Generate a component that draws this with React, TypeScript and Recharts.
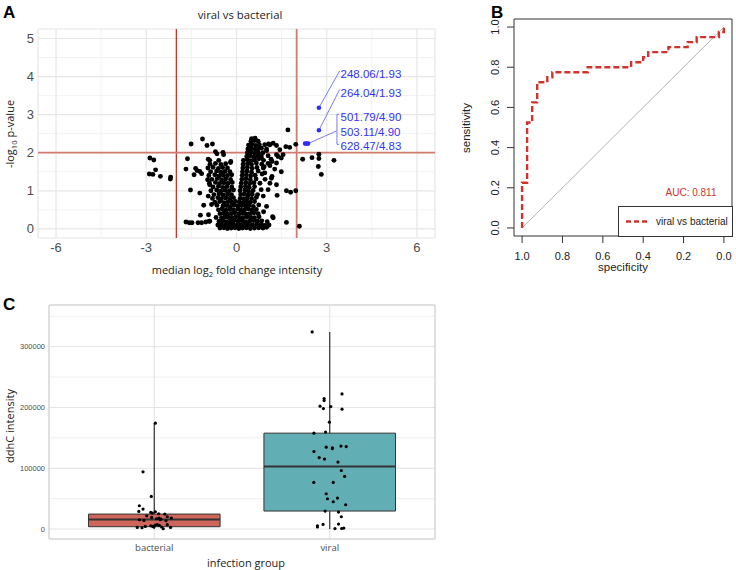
import React from "react";
import {
  ScatterChart,
  Scatter,
  LineChart,
  Line,
  XAxis,
  YAxis,
  CartesianGrid,
  ReferenceLine,
  ReferenceArea,
} from "recharts";

// ---------- panel A: volcano ----------
const volcanoXTicks = [-6, -3, 0, 3, 6];
const volcanoYTicks = [0, 1, 2, 3, 4, 5];
const volcanoMinorX = [-4.5, -1.5, 1.5, 4.5];
const volcanoMinorY = [0.5, 1.5, 2.5, 3.5, 4.5];

const volcanoLeft = [
  [-2.88, 1.86], [-2.75, 1.81], [-2.69, 1.55], [-2.9, 1.44], [-2.78, 1.43], [-2.53, 1.38], [-2.19, 1.36], [-2.2, 1.31],
  [-1.51, 2.23], [-1.13, 2.36], [-0.98, 2.19], [-0.8, 2.23], [-1.63, 1.84], [-1.68, 1.57], [-1.36, 1.59], [-1.31, 1.53],
  [-1.22, 1.51], [-1.16, 1.45], [-1.41, 1.42], [-1.53, 1.02], [-1.22, 0.94], [-1.09, 0.62], [-1.2, 0.36], [-0.93, 0.37],
  [-1.68, 0.18], [-1.57, 0.16], [-1.48, 0.16], [-1.28, 0.16], [-1.16, 0.16], [-1.02, 0.18], [-0.91, 0.2],
  [-0.96, 1.29], [-0.89, 1.16], [-0.94, 0.86], [-0.83, 0.64], [-0.89, 0.2],
  [-0.7, 2.03], [-0.65, 1.97], [-0.45, 2.01], [-0.43, 1.95], [-0.94, 1.83], [-0.89, 1.8], [-0.59, 1.8], [-0.19, 1.77],
];

const volcanoCore = [
  [-0.55, 0.02], [-0.42, 0.03], [-0.3, 0.01], [-0.18, 0.02], [-0.05, 0.03], [0.08, 0.01], [0.2, 0.02], [0.33, 0.03], [0.46, 0.01], [0.6, 0.02], [0.74, 0.03], [0.88, 0.02], [1.0, 0.04],
  [-0.62, 0.1], [-0.5, 0.12], [-0.37, 0.11], [-0.24, 0.1], [-0.12, 0.12], [0.02, 0.11], [0.14, 0.1], [0.27, 0.12], [0.4, 0.11], [0.53, 0.1], [0.67, 0.12], [0.8, 0.11], [0.94, 0.09], [1.08, 0.1],
  [-0.58, 0.2], [-0.45, 0.21], [-0.33, 0.19], [-0.2, 0.2], [-0.08, 0.22], [0.05, 0.2], [0.18, 0.21], [0.31, 0.19], [0.44, 0.2], [0.57, 0.22], [0.7, 0.2], [0.84, 0.21], [1.02, 0.19],
  [-0.68, 0.3], [-0.5, 0.29], [-0.38, 0.31], [-0.26, 0.3], [-0.14, 0.29], [-0.02, 0.31], [0.1, 0.3], [0.22, 0.29], [0.35, 0.31], [0.48, 0.3], [0.6, 0.29], [0.75, 0.32],
  [-0.55, 0.4], [-0.42, 0.41], [-0.3, 0.39], [-0.17, 0.4], [-0.05, 0.42], [0.08, 0.4], [0.2, 0.41], [0.32, 0.39], [0.45, 0.4], [0.58, 0.42], [0.72, 0.4], [0.9, 0.45],
  [-0.6, 0.5], [-0.48, 0.52], [-0.35, 0.49], [-0.22, 0.51], [-0.1, 0.5], [0.04, 0.52], [0.15, 0.49], [0.27, 0.5], [0.4, 0.52], [0.52, 0.49], [0.66, 0.51],
  [-0.65, 0.62], [-0.45, 0.6], [-0.32, 0.61], [-0.2, 0.59], [-0.08, 0.62], [0.05, 0.6], [0.17, 0.61], [0.3, 0.6], [0.42, 0.62], [0.56, 0.59], [0.74, 0.63],
  [-0.72, 0.7], [-0.56, 0.72], [-0.42, 0.69], [-0.28, 0.71], [-0.15, 0.7], [-0.03, 0.72], [0.1, 0.7], [0.22, 0.69], [0.34, 0.71], [0.46, 0.7], [0.6, 0.72],
  [-0.8, 0.8], [-0.62, 0.82], [-0.5, 0.79], [-0.36, 0.81], [-0.22, 0.8], [-0.1, 0.82], [0.12, 0.8], [0.24, 0.79], [0.36, 0.81], [0.5, 0.8], [0.66, 0.83],
  [-0.75, 0.9], [-0.58, 0.92], [-0.45, 0.89], [-0.3, 0.91], [-0.17, 0.9], [0.14, 0.9], [0.26, 0.92], [0.38, 0.89], [0.52, 0.91], [0.7, 0.9],
  [-0.85, 1.0], [-0.66, 1.02], [-0.52, 0.99], [-0.38, 1.01], [-0.24, 1.0], [-0.1, 1.02], [0.12, 1.0], [0.28, 1.02], [0.4, 0.99], [0.55, 1.01], [0.82, 1.03],
  [-0.78, 1.1], [-0.6, 1.12], [-0.46, 1.09], [-0.32, 1.11], [-0.16, 1.1], [0.14, 1.1], [0.3, 1.12], [0.42, 1.09], [0.6, 1.11],
  [-0.9, 1.2], [-0.7, 1.22], [-0.56, 1.19], [-0.42, 1.21], [-0.28, 1.2], [-0.14, 1.22], [0.16, 1.2], [0.31, 1.22], [0.44, 1.19], [0.58, 1.21], [0.78, 1.2],
  [-0.82, 1.3], [-0.64, 1.32], [-0.5, 1.29], [-0.36, 1.31], [-0.2, 1.3], [0.18, 1.3], [0.32, 1.32], [0.46, 1.29], [0.65, 1.31], [0.95, 1.3],
  [-0.92, 1.4], [-0.72, 1.42], [-0.58, 1.39], [-0.44, 1.41], [-0.3, 1.4], [-0.16, 1.42], [0.19, 1.4], [0.33, 1.42], [0.47, 1.39], [0.62, 1.41], [0.85, 1.44],
  [-0.86, 1.5], [-0.66, 1.52], [-0.52, 1.49], [-0.38, 1.51], [-0.22, 1.5], [0.2, 1.5], [0.35, 1.52], [0.5, 1.49], [0.72, 1.52],
  [-0.95, 1.6], [-0.78, 1.62], [-0.6, 1.59], [-0.46, 1.61], [-0.3, 1.6], [0.21, 1.6], [0.36, 1.62], [0.52, 1.59], [0.68, 1.61], [0.92, 1.63],
  [-0.88, 1.7], [-0.7, 1.72], [-0.52, 1.69], [-0.36, 1.71], [-0.2, 1.74], [0.22, 1.7], [0.37, 1.72], [0.5, 1.69], [0.66, 1.73], [0.84, 1.7], [1.05, 1.72],
  [0.23, 1.8], [0.36, 1.82], [0.48, 1.79], [0.6, 1.81], [0.74, 1.84], [0.9, 1.8], [1.15, 1.83],
  [0.34, 1.9], [0.46, 1.92], [0.58, 1.89], [0.7, 1.91], [0.82, 1.93], [0.36, 2.0], [0.48, 2.02], [0.6, 1.99], [0.72, 2.01], [0.88, 2.0],
  [0.38, 2.1], [0.5, 2.12], [0.62, 2.09], [0.74, 2.11], [1.0, 2.1], [0.4, 2.2], [0.52, 2.22], [0.64, 2.19], [0.76, 2.21],
  [0.48, 2.3], [0.6, 2.32], [0.72, 2.3], [0.5, 2.37], [0.62, 2.38],
];

const volcanoRight = [
  [1.71, 2.6], [1.64, 2.16], [1.77, 2.14], [1.97, 2.22], [1.44, 2.08], [1.55, 1.95], [1.49, 1.86], [1.38, 1.9],
  [1.11, 2.21], [1.22, 2.25], [1.33, 2.19], [1.49, 1.5], [1.16, 1.33], [1.35, 0.88], [1.66, 1.0], [1.8, 0.96], [1.97, 1.0],
  [1.2, 0.32], [1.66, 0.17], [2.09, 0.07], [2.2, 1.83], [2.51, 1.87], [2.74, 1.96], [2.74, 1.85], [2.72, 1.64], [2.82, 1.43], [3.24, 1.8],
  [0.94, 2.21], [1.07, 2.23], [0.83, 2.12], [1.0, 2.06], [1.33, 1.95], [1.05, 1.92], [0.83, 1.86], [1.18, 1.77], [1.33, 1.73],
  [1.11, 1.66], [0.89, 1.6], [1.27, 1.57], [0.94, 1.47], [1.18, 1.38], [1.11, 1.2], [1.33, 1.16], [1.05, 1.03], [0.89, 0.86],
  [1.0, 0.59], [1.22, 0.29], [0.83, 0.11],
];

const hitX = [2.74, 2.74, 2.28, 2.33, 2.38];
const hitY = [3.18, 2.59, 2.24, 2.24, 2.24];
const hitLabels = ["248.06/1.93", "264.04/1.93", "501.79/4.90", "503.11/4.90", "628.47/4.83"];
const hitLabelY = [4.08, 3.56, 2.93, 2.55, 2.19];
const hitLabelX = 3.46;

// ---------- panel B: ROC ----------
const rocSpecificity = [1, 1, 0.975, 0.975, 0.95, 0.95, 0.925, 0.925, 0.875, 0.875, 0.85, 0.85, 0.675, 0.675, 0.46, 0.46, 0.4, 0.4, 0.375, 0.375, 0.275, 0.275, 0.18, 0.18, 0.135, 0.135, 0.025, 0.025, 0, 0];
const rocSensitivity = [0, 0.225, 0.225, 0.525, 0.525, 0.625, 0.625, 0.725, 0.725, 0.75, 0.75, 0.775, 0.775, 0.8, 0.8, 0.825, 0.825, 0.85, 0.85, 0.875, 0.875, 0.9, 0.9, 0.925, 0.925, 0.95, 0.95, 0.975, 0.975, 1];
const rocTicks = [0, 0.2, 0.4, 0.6, 0.8, 1];

// ---------- panel C: box plot ----------
const groups = ["bacterial", "viral"];
const boxMin = [0, 0];
const boxQ1 = [3800, 29600];
const boxMedian = [15800, 102900];
const boxQ3 = [24600, 157700];
const boxMax = [174100, 324000];
const boxFill = ["#cf665b", "#62aeb5"];
const intensityTicks = [0, 100000, 200000, 300000];
const intensityMinor = [50000, 150000, 250000, 350000];

const bacterialJitter = [1.006, 0.936, 0.983, 0.915, 0.936, 0.912, 0.98, 0.989, 1.006, 1.025, 1.06, 1.074, 1.097, 0.957, 0.985, 1.027, 1.038, 1.033, 1.013, 0.915, 0.941, 1.067, 0.903, 0.93, 0.949, 0.98, 0.991, 0.998, 1.006, 1.017, 1.029, 1.042, 1.051, 1.074, 1.093];
const bacterialValues = [174100, 94100, 53600, 38300, 32900, 28900, 27300, 26300, 28400, 25100, 24600, 20200, 18100, 21800, 19100, 18100, 16400, 15300, 16900, 15300, 14100, 13600, 2600, 2100, 4300, 5400, 4300, 3300, 6600, 7100, 5900, 3300, 500, 7100, 2600];
const viralJitter = [1.9, 2.07, 1.968, 1.968, 1.945, 1.964, 2.006, 2.07, 1.998, 1.91, 1.976, 1.98, 2.015, 2.015, 2.064, 2.094, 1.91, 1.94, 1.97, 2.047, 2.066, 2.085, 1.909, 2.02, 1.98, 1.987, 2.044, 2.02, 2.091, 1.974, 2.05, 2.066, 1.962, 1.93, 1.93, 2.05, 2.03, 2.068, 2.08];
const viralValues = [324200, 222300, 214600, 211300, 202100, 198100, 201400, 197200, 175800, 157700, 159400, 134700, 133600, 132400, 136400, 135700, 127500, 117600, 115000, 110100, 96300, 86500, 76600, 76600, 58000, 49800, 50900, 44900, 39900, 29600, 27900, 20200, 7600, 5400, 3300, 8200, 800, 900, 1600];

const toXY = (pts: number[][]) => pts.map(([x, y]) => ({ x, y }));
const ARIAL = 'Arial, "Liberation Sans", sans-serif';
const OPEN = '"Open Sans", "Noto Sans", sans-serif';

const Txt = ({ x, y, children, size = 12, color = "#222", font = ARIAL, bold = false, rotate = false, anchor = "middle" }: any) => (
  <div
    style={{
      position: "absolute",
      left: x,
      top: y,
      transform: `translate(${anchor === "middle" ? "-50%" : "0"},-50%)${rotate ? " rotate(-90deg)" : ""}`,
      whiteSpace: "nowrap",
      fontSize: size,
      lineHeight: 1,
      color,
      fontFamily: font,
      fontWeight: bold ? 700 : 400,
    }}
  >
    {children}
  </div>
);

const blackDot = (r: number) => (p: any) => <circle cx={p.cx} cy={p.cy} r={r} fill="#000" />;

const VolcanoPanel = () => {
  const pts = [...toXY(volcanoLeft), ...toXY(volcanoCore), ...toXY(volcanoRight)];
  const hits = hitX.map((x, i) => ({ x, y: hitY[i] }));
  const labels = hitLabels.map((t, i) => ({ x: hitLabelX, y: hitLabelY[i], t }));
  const tick = { fontSize: 13, fill: "#4d4d4d", fontFamily: ARIAL };
  return (
    <ScatterChart width={450} height={290} margin={{ top: 29, right: 15, bottom: 22, left: 0 }}>
      <CartesianGrid stroke="#f2f2f2" strokeWidth={1} verticalValues={volcanoMinorX} horizontalValues={volcanoMinorY} />
      <CartesianGrid stroke="#e6e6e6" strokeWidth={1.2} />
      <XAxis type="number" dataKey="x" domain={[-6.6, 6.6]} ticks={volcanoXTicks} allowDataOverflow interval={0}
        axisLine={false} tickLine={false} tickSize={0} tickMargin={5} height={30} tick={tick} />
      <YAxis type="number" dataKey="y" domain={[-0.24, 5.25]} ticks={volcanoYTicks} allowDataOverflow interval={0}
        axisLine={false} tickLine={false} tickSize={0} tickMargin={4} width={38} tick={tick} />
      <ReferenceLine x={-2} stroke="#c8352b" strokeWidth={1.3} />
      <ReferenceLine x={2} stroke="#d27a70" strokeWidth={1.8} />
      <ReferenceLine y={2} stroke="#d27a70" strokeWidth={1.8} />
      <ReferenceLine segment={[{ x: hitX[0], y: hitY[0] }, { x: 3.43, y: 4.15 }]} stroke="#5b5bf0" strokeWidth={0.8} />
      <ReferenceLine segment={[{ x: hitX[1], y: hitY[1] }, { x: 3.43, y: 3.66 }]} stroke="#5b5bf0" strokeWidth={0.8} />
      <ReferenceLine segment={[{ x: hitX[4], y: hitY[4] }, { x: 3.32, y: 2.57 }]} stroke="#5b5bf0" strokeWidth={0.8} />
      <ReferenceLine segment={[{ x: 3.34, y: 3.01 }, { x: 3.34, y: 2.22 }]} stroke="#5b5bf0" strokeWidth={0.8} />
      <ReferenceLine segment={[{ x: 3.34, y: 3.01 }, { x: 3.41, y: 3.01 }]} stroke="#5b5bf0" strokeWidth={0.8} />
      <ReferenceLine segment={[{ x: 3.34, y: 2.22 }, { x: 3.41, y: 2.22 }]} stroke="#5b5bf0" strokeWidth={0.8} />
      <Scatter data={pts} shape={blackDot(2.45)} isAnimationActive={false} />
      <Scatter data={hits} shape={(p: any) => <circle cx={p.cx} cy={p.cy} r={2.3} fill="#2f2ff2" />} isAnimationActive={false} />
      <Scatter
        data={labels}
        isAnimationActive={false}
        shape={(p: any) => (
          <text x={p.cx} y={p.cy} dy="0.36em" fontSize={11.5} fontFamily={ARIAL} fill="#3434f2">
            {p.payload.t}
          </text>
        )}
      />
    </ScatterChart>
  );
};

const RotatedTick = (props: any) => {
  const { x, y, payload } = props;
  return (
    <text x={x} y={y} transform={`rotate(-90 ${x} ${y})`} textAnchor="middle" fontSize={11} fill="#222" fontFamily={ARIAL}>
      {Number(payload.value).toFixed(1)}
    </text>
  );
};

const RocPanel = () => {
  const data = rocSpecificity.map((s, i) => ({ spec: s, sens: rocSensitivity[i] }));
  return (
    <LineChart width={276} height={290} data={data} margin={{ top: 19, right: 4, bottom: 24, left: 0 }}>
      <XAxis type="number" dataKey="spec" domain={[-0.04, 1.04]} reversed ticks={rocTicks} interval={0} allowDataOverflow
        axisLine={false} tickLine={{ stroke: "#333" }} tickSize={7} tickMargin={9} height={30}
        tickFormatter={(v: number) => v.toFixed(1)} tick={{ fontSize: 11, fill: "#222", fontFamily: ARIAL }} />
      <YAxis type="number" domain={[-0.04, 1.04]} ticks={rocTicks} interval={0} allowDataOverflow
        axisLine={false} tickLine={{ stroke: "#333" }} tickSize={7} tickMargin={8} width={54} tick={<RotatedTick />} />
      <ReferenceArea x1={1.04} x2={-0.04} y1={-0.04} y2={1.04} fill="none" stroke="#333" strokeWidth={1} fillOpacity={0} />
      <ReferenceLine segment={[{ x: 1, y: 0 }, { x: 0, y: 1 }]} stroke="#b5b5b5" strokeWidth={1} />
      <Line type="linear" dataKey="sens" stroke="#d1322c" strokeWidth={2.4} strokeDasharray="6 3" dot={false} isAnimationActive={false} />
    </LineChart>
  );
};

const BoxPanel = () => {
  const bact = bacterialJitter.map((x, i) => ({ x, y: bacterialValues[i] }));
  const vir = viralJitter.map((x, i) => ({ x, y: viralValues[i] }));
  return (
    <ScatterChart width={450} height={280} margin={{ top: 15, right: 15, bottom: 11, left: 0 }}>
      <CartesianGrid stroke="#efefef" strokeWidth={1} vertical={false} horizontalValues={intensityMinor} />
      <CartesianGrid stroke="#e2e2e2" strokeWidth={1} />
      <XAxis type="number" dataKey="x" domain={[0.4, 2.6]} ticks={[1, 2]} interval={0} allowDataOverflow
        axisLine={false} tickLine={false} tickSize={0} tickMargin={5} height={20}
        tickFormatter={(v: number) => groups[v - 1]} tick={{ fontSize: 9.5, fill: "#4d4d4d", fontFamily: OPEN }} />
      <YAxis type="number" dataKey="y" domain={[-16400, 368500]} ticks={intensityTicks} interval={0} allowDataOverflow
        axisLine={false} tickLine={false} tickSize={0} tickMargin={4} width={49}
        tick={{ fontSize: 7.5, fill: "#4d4d4d", fontFamily: ARIAL }} />
      <ReferenceArea x1={0.4} x2={2.6} y1={-16400} y2={368500} fill="none" fillOpacity={0} stroke="#cfcfcf" strokeWidth={1} />
      {groups.map((g, i) => (
        <ReferenceLine key={"wu" + g} segment={[{ x: i + 1, y: boxQ3[i] }, { x: i + 1, y: boxMax[i] }]} stroke="#333" strokeWidth={1.2} />
      ))}
      {groups.map((g, i) => (
        <ReferenceLine key={"wl" + g} segment={[{ x: i + 1, y: boxMin[i] }, { x: i + 1, y: boxQ1[i] }]} stroke="#333" strokeWidth={1.2} />
      ))}
      {groups.map((g, i) => (
        <ReferenceArea key={"b" + g} x1={i + 0.625} x2={i + 1.375} y1={boxQ1[i]} y2={boxQ3[i]} fill={boxFill[i]} fillOpacity={1} stroke="#333" strokeWidth={1} />
      ))}
      {groups.map((g, i) => (
        <ReferenceLine key={"md" + g} segment={[{ x: i + 0.625, y: boxMedian[i] }, { x: i + 1.375, y: boxMedian[i] }]} stroke="#333" strokeWidth={2} />
      ))}
      <Scatter data={bact} shape={blackDot(1.6)} isAnimationActive={false} />
      <Scatter data={vir} shape={blackDot(1.6)} isAnimationActive={false} />
    </ScatterChart>
  );
};

export default function App() {
  return (
    <div style={{ position: "absolute", left: 0, top: 0, width: 736, height: 570, background: "#fff", overflow: "hidden" }}>
      <div style={{ position: "absolute", left: 0, top: 0 }}>
        <VolcanoPanel />
      </div>
      <div style={{ position: "absolute", left: 460, top: 0 }}>
        <RocPanel />
      </div>
      <div style={{ position: "absolute", left: 0, top: 290 }}>
        <BoxPanel />
      </div>

      <Txt x={3} y={12} size={17} bold color="#000" anchor="start">A</Txt>
      <Txt x={240} y={15} size={11.3} font={OPEN} color="#222">viral vs bacterial</Txt>
      <Txt x={237} y={271} size={11} font={OPEN} color="#222">
        median log<sub style={{ fontSize: "0.7em" }}>2</sub> fold change intensity
      </Txt>
      <Txt x={11} y={134} size={11} font={OPEN} color="#222" rotate>
        -log<sub style={{ fontSize: "0.7em" }}>10</sub> p-value
      </Txt>

      <Txt x={491} y={12} size={17} bold color="#000" anchor="start">B</Txt>
      <Txt x={467} y={128} size={11.5} color="#222" rotate>sensitivity</Txt>
      <Txt x={623} y={268} size={11.5} color="#222">specificity</Txt>
      <Txt x={691} y={193} size={10} color="#d1322c">AUC: 0.811</Txt>
      <div style={{ position: "absolute", left: 618, top: 206, width: 115, height: 31, border: "1px solid #333", boxSizing: "border-box", background: "#fff" }}>
        <svg width={30} height={29} style={{ position: "absolute", left: 6, top: 0 }}>
          <line x1={1} y1={14.5} x2={25} y2={14.5} stroke="#d1322c" strokeWidth={2.4} strokeDasharray="5 3" />
        </svg>
        <Txt x={37} y={14.5} size={10} color="#222" anchor="start">viral vs bacterial</Txt>
      </div>

      <Txt x={3} y={304} size={17} bold color="#000" anchor="start">C</Txt>
      <Txt x={9} y={426} size={11} font={OPEN} color="#222" rotate>ddhC intensity</Txt>
      <Txt x={246} y={562} size={11} font={OPEN} color="#222">infection group</Txt>
    </div>
  );
}
